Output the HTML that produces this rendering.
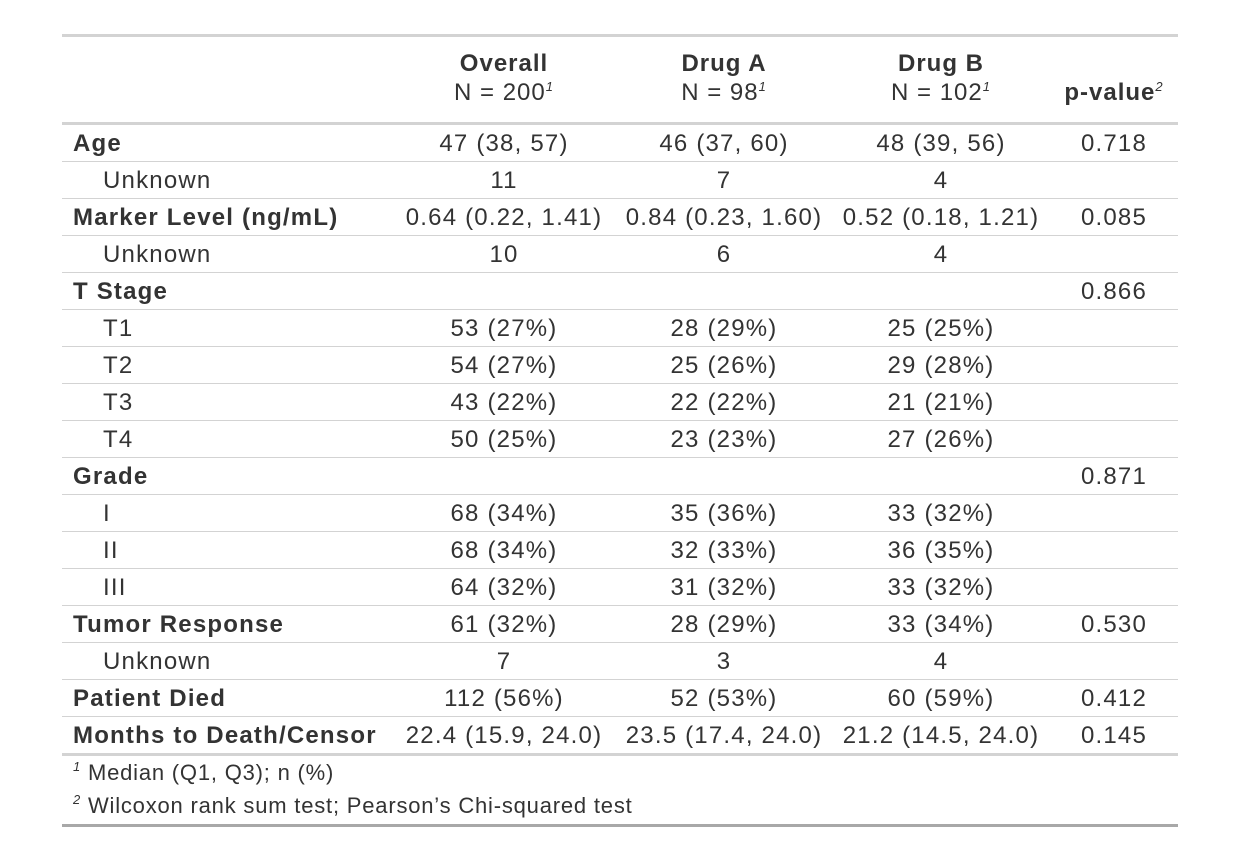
<!DOCTYPE html>
<html><head><meta charset="utf-8"><style>
body{margin:0;width:1242px;height:864px;background:#fff;font-family:"Liberation Sans",sans-serif;color:#333;position:relative;overflow:hidden}
.hl{position:absolute;left:62px;width:1116px;background:#d3d3d3}
.r{position:absolute;left:62px;width:1116px;height:36px;border-bottom:1px solid #d3d3d3;font-size:24px;line-height:37px;letter-spacing:1.2px}
.r span{position:absolute;top:0;white-space:nowrap}
.l{left:11px}.i{left:41px}.b{font-weight:bold}
.c1,.c2,.c3,.c4{transform:translateX(-50%)}
.c1{left:442px}.c2{left:662px}.c3{left:879px}.c4{left:1052px}
.h{position:absolute;font-size:24px;text-align:center;transform:translateX(-50%);line-height:29px;white-space:nowrap;letter-spacing:1px}
sup{font-size:13px;font-style:italic;vertical-align:9px;line-height:0}
.f{position:absolute;left:73px;font-size:22px;white-space:nowrap;letter-spacing:0.8px}
</style></head><body>
<div class="hl" style="top:34px;height:3px"></div>
<div class="h" style="left:504px;top:49px"><b>Overall</b><br>N = 200<sup>1</sup></div>
<div class="h" style="left:724px;top:49px"><b>Drug A</b><br>N = 98<sup>1</sup></div>
<div class="h" style="left:941px;top:49px"><b>Drug B</b><br>N = 102<sup>1</sup></div>
<div class="h" style="left:1114px;top:78px"><b>p-value</b><sup>2</sup></div>
<div class="hl" style="top:122px;height:3px"></div>
<div id="rows"></div>
<div class="hl" style="top:753px;height:3px"></div>
<div class="f" style="top:760px"><sup>1</sup> Median (Q1, Q3); n (%)</div>
<div class="f" style="top:793px"><sup>2</sup> Wilcoxon rank sum test; Pearson’s Chi-squared test</div>
<div class="hl" style="top:824px;height:3px;background:#a8a8a8"></div>
<script>
var d=[["Age",1,"47 (38, 57)","46 (37, 60)","48 (39, 56)","0.718"],
["Unknown",0,"11","7","4",""],
["Marker Level (ng/mL)",1,"0.64 (0.22, 1.41)","0.84 (0.23, 1.60)","0.52 (0.18, 1.21)","0.085"],
["Unknown",0,"10","6","4",""],
["T Stage",1,"","","","0.866"],
["T1",0,"53 (27%)","28 (29%)","25 (25%)",""],
["T2",0,"54 (27%)","25 (26%)","29 (28%)",""],
["T3",0,"43 (22%)","22 (22%)","21 (21%)",""],
["T4",0,"50 (25%)","23 (23%)","27 (26%)",""],
["Grade",1,"","","","0.871"],
["I",0,"68 (34%)","35 (36%)","33 (32%)",""],
["II",0,"68 (34%)","32 (33%)","36 (35%)",""],
["III",0,"64 (32%)","31 (32%)","33 (32%)",""],
["Tumor Response",1,"61 (32%)","28 (29%)","33 (34%)","0.530"],
["Unknown",0,"7","3","4",""],
["Patient Died",1,"112 (56%)","52 (53%)","60 (59%)","0.412"],
["Months to Death/Censor",1,"22.4 (15.9, 24.0)","23.5 (17.4, 24.0)","21.2 (14.5, 24.0)","0.145"]];
var h="";d.forEach(function(r,i){h+='<div class="r" style="top:'+(125+37*i)+'px'+(i==16?';border-bottom:none':'')+'"><span class="'+(r[1]?'l b':'i')+'">'+r[0]+'</span><span class="c1">'+r[2]+'</span><span class="c2">'+r[3]+'</span><span class="c3">'+r[4]+'</span><span class="c4">'+r[5]+'</span></div>';});
document.getElementById("rows").innerHTML=h;
</script>
</body></html>
